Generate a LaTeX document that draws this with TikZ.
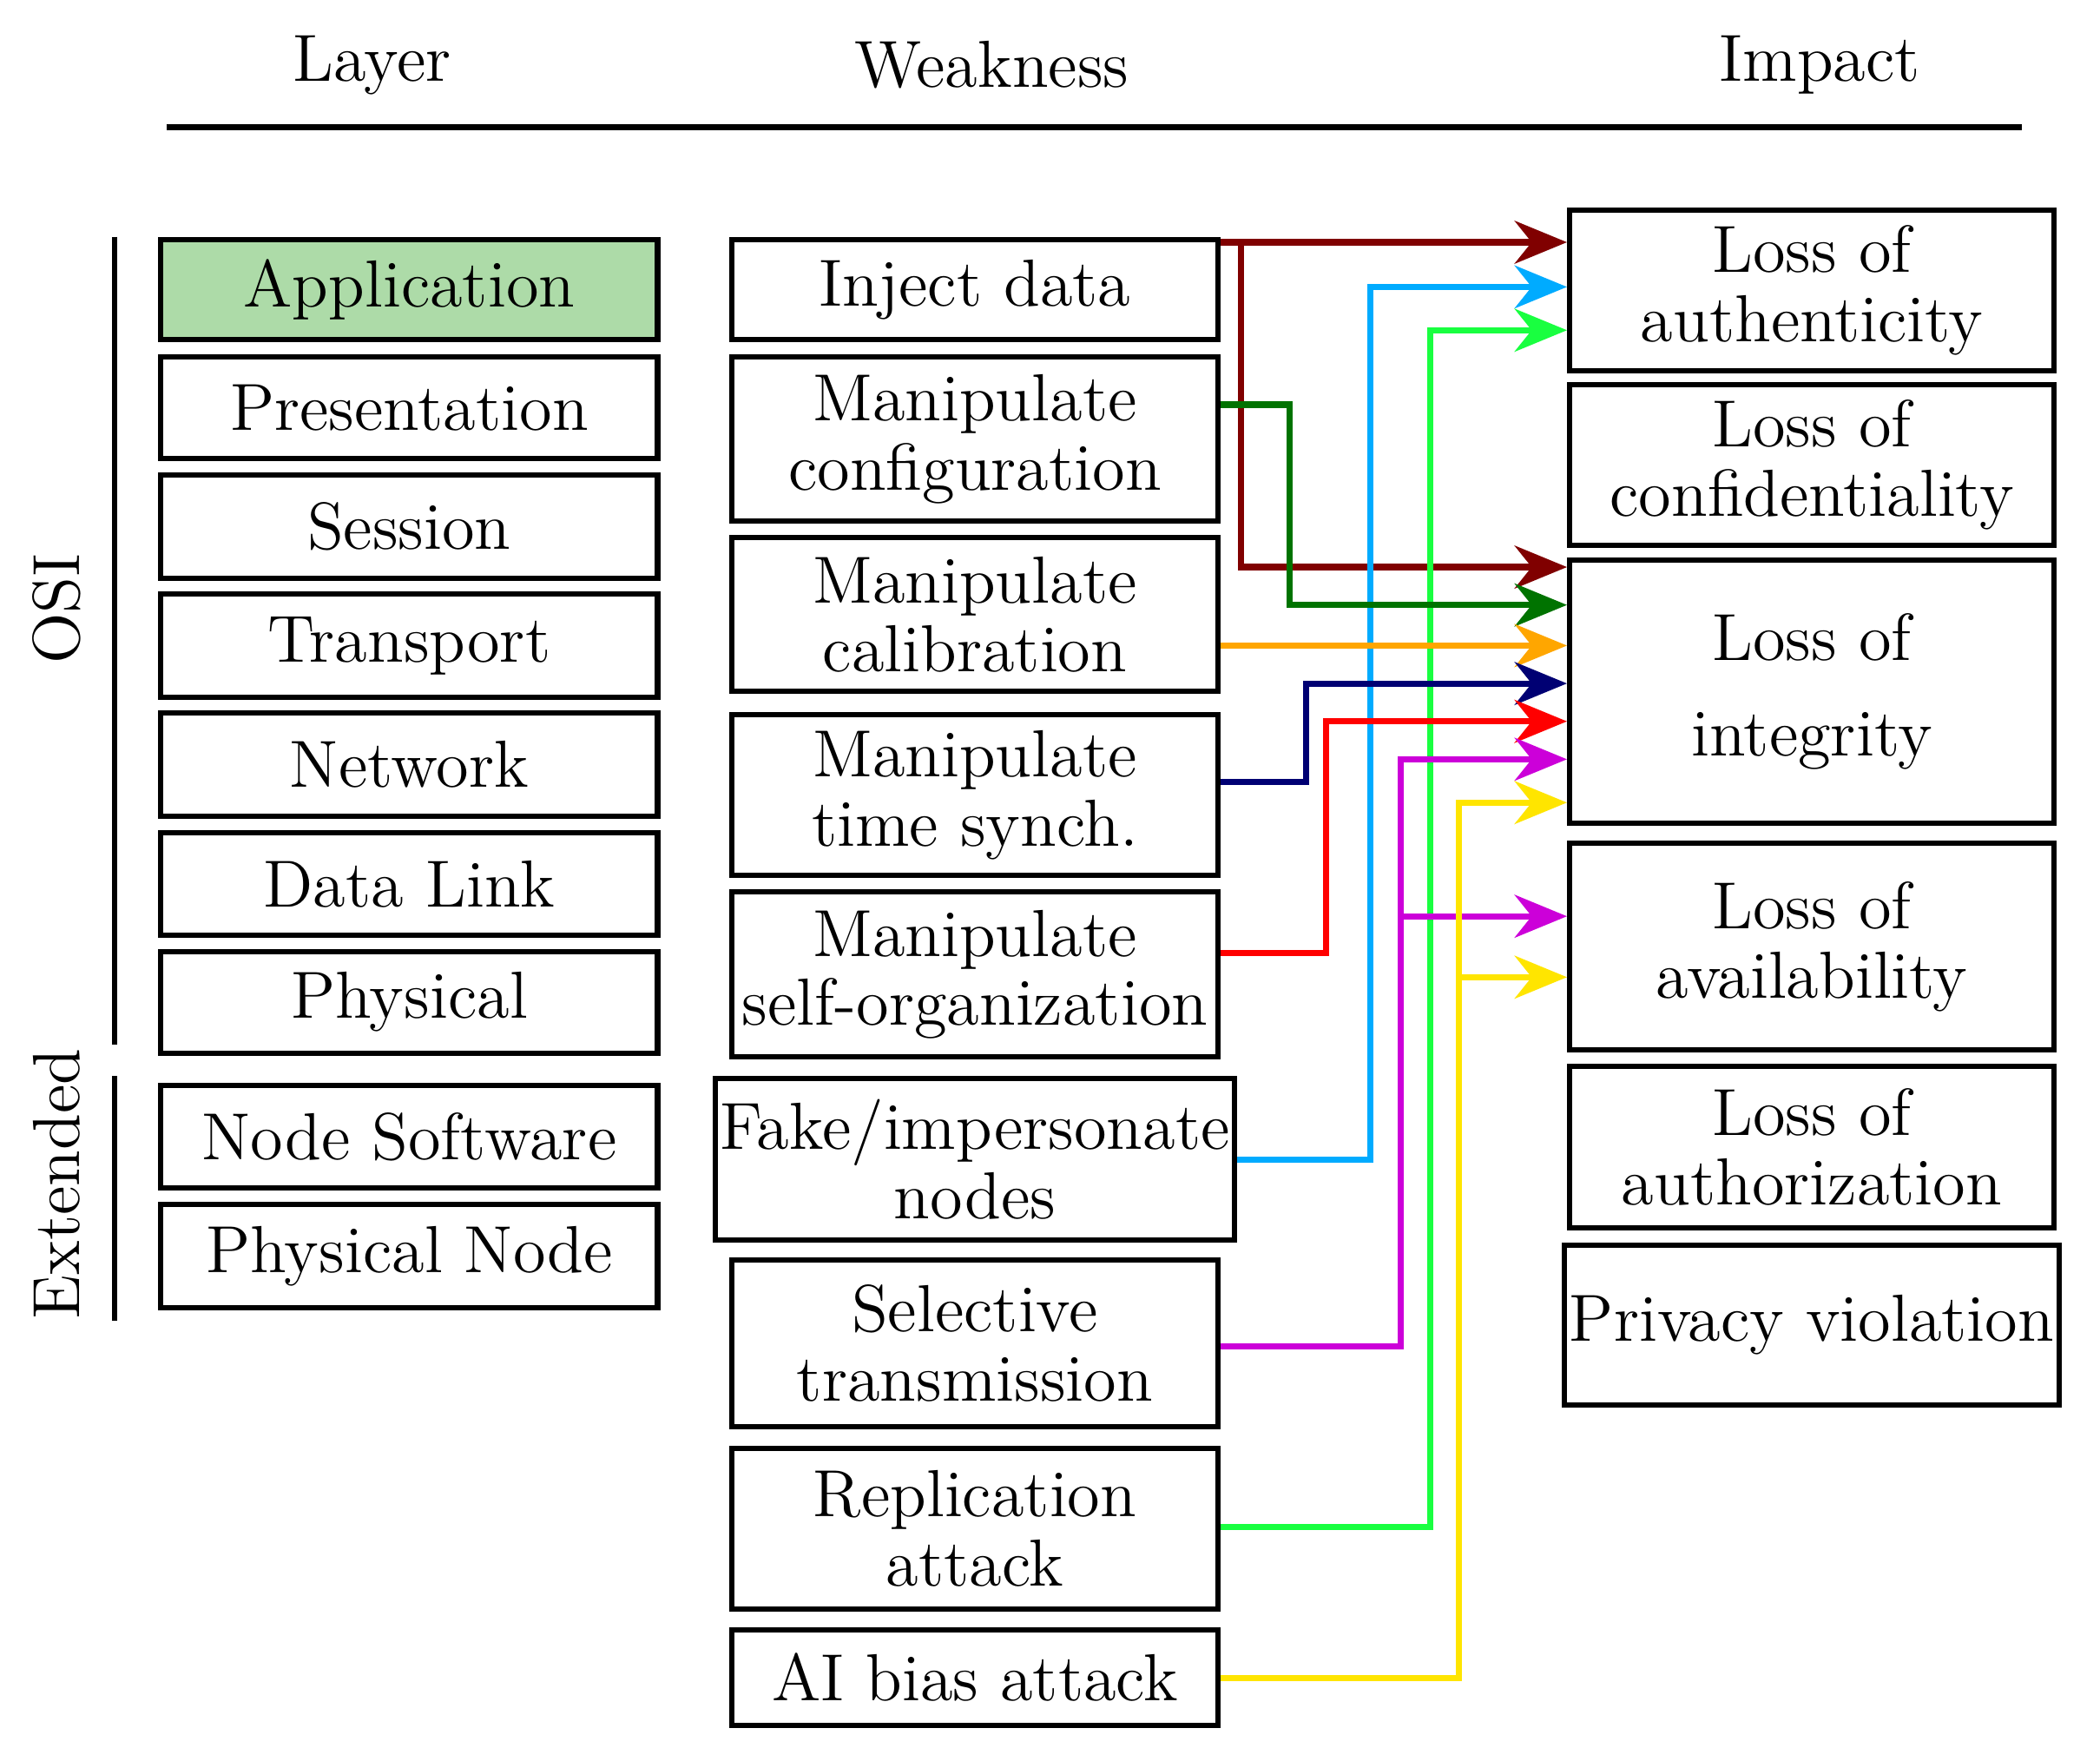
\documentclass[tikz,border=0pt]{standalone}
\usepackage{mathpazo}
\usetikzlibrary{arrows.meta}
\definecolor{appgreen}{rgb}{0.68,0.86,0.66}
\definecolor{cdred}{rgb}{0.5,0,0}
\definecolor{cblue}{rgb}{0,0.67,1}
\definecolor{cgreen}{rgb}{0.1,1,0.25}
\definecolor{cdgreen}{rgb}{0,0.45,0}
\definecolor{corange}{rgb}{1,0.65,0}
\definecolor{cnavy}{rgb}{0,0,0.45}
\definecolor{cred}{rgb}{1,0,0}
\definecolor{cmag}{rgb}{0.8,0,0.85}
\definecolor{cyel}{rgb}{1,0.9,0}
\begin{document}
\begin{tikzpicture}[x=1cm, y=1cm, font=\fontsize{14}{14.5}\selectfont, thin]
  \tikzset{layer/.style={draw, line width=1.1pt, minimum width=3.67cm, inner sep=1pt, align=center},
    weak/.style={draw, line width=1.1pt, minimum width=3.59cm, inner sep=1pt, align=center},
    imp/.style={draw, line width=1.1pt, minimum width=3.58cm, inner sep=1pt, align=center},
    arr/.style={line width=1.3pt, -{Stealth[length=11pt, width=9pt]}},
    lnk/.style={line width=1.3pt}}
  \useasboundingbox (0,0) rectangle (15.52,-12.915);

	% headings
	\node (hLayer) at (2.75,-0.48) {Layer};
	\node (hWeak) at (7.33,-0.48) {Weakness};
	\node (hImp) at (13.45,-0.48) {Impact};
	\draw[line width=1.1pt] (1.23,-0.94) -- (14.94,-0.94);

	% layers
	\node[layer, fill=appgreen, minimum height=0.74cm] (app) at (3.025,-2.14) {Application};
	\node[layer, minimum height=0.75cm] (pres) at (3.025,-3.015) {Presentation};
	\node[layer, minimum height=0.76cm] (sess) at (3.025,-3.89) {Session};
	\node[layer, minimum height=0.76cm] (trans) at (3.025,-4.77) {Transport};
	\node[layer, minimum height=0.76cm] (net) at (3.025,-5.65) {Network};
	\node[layer, minimum height=0.76cm] (dl) at (3.025,-6.53) {Data Link};
	\node[layer, minimum height=0.75cm] (phy) at (3.025,-7.405) {Physical};
	\node[layer, minimum height=0.76cm] (nsw) at (3.025,-8.40) {Node Software};
	\node[layer, minimum height=0.76cm] (pnode) at (3.025,-9.28) {Physical Node};

	\draw[line width=1.1pt] (0.85,-1.75) -- (0.85,-7.72);
	\draw[line width=1.1pt] (0.85,-7.95) -- (0.85,-9.76);
	\node[rotate=90] (osi) at (0.42,-4.50) {OSI};
	\node[rotate=90] (ext) at (0.42,-8.75) {Extended};

	% weaknesses
	\node[weak, minimum height=0.74cm] (inj) at (7.205,-2.14) {Inject data};
	\node[weak, minimum height=1.21cm] (conf) at (7.205,-3.245) {Manipulate\\configuration};
	\node[weak, minimum height=1.14cm] (cal) at (7.205,-4.54) {Manipulate\\calibration};
	\node[weak, minimum height=1.19cm] (tsync) at (7.205,-5.875) {Manipulate\\time synch.};
	\node[weak, minimum height=1.22cm] (sorg) at (7.205,-7.20) {Manipulate\\self-organization};
	\node[weak, minimum height=1.19cm] (fake) at (7.205,-8.565) {Fake/impersonate\\nodes};
	\node[weak, minimum height=1.23cm] (sel) at (7.205,-9.925) {Selective\\transmission};
	\node[weak, minimum height=1.19cm] (repl) at (7.205,-11.295) {Replication\\attack};
	\node[weak, minimum height=0.71cm] (aib) at (7.205,-12.395) {AI bias attack};

	% impacts
	\node[imp, minimum height=1.19cm] (auth) at (13.39,-2.145) {Loss of\\authenticity};
	\node[imp, minimum height=1.19cm] (conf2) at (13.39,-3.435) {Loss of\\confidentiality};
	\node[imp, minimum height=1.94cm, font=\fontsize{14}{20}\selectfont] (integ) at (13.39,-5.11) {Loss of\\integrity};
	\node[imp, minimum height=1.53cm] (avail) at (13.39,-6.995) {Loss of\\availability};
	\node[imp, minimum height=1.19cm] (authz) at (13.39,-8.475) {Loss of\\authorization};
	\node[imp, minimum height=1.18cm] (priv) at (13.39,-9.79) {Privacy violation};

	% links
	\draw[arr, cdred] (inj.east |- 0,-1.79) -- (auth.west |- 0,-1.79);
	\draw[arr, cdred] (9.17,-1.79) |- (integ.west |- 0,-4.19);
	\draw[arr, cblue] (fake.east |- 0,-8.57) -| (10.13,-2.12) -- (auth.west |- 0,-2.12);
	\draw[arr, cgreen] (repl.east |- 0,-11.28) -| (10.57,-2.44) -- (auth.west |- 0,-2.44);
	\draw[arr, cdgreen] (conf.east |- 0,-2.99) -| (9.53,-4.47) -- (integ.west |- 0,-4.47);
	\draw[arr, corange] (cal.east |- 0,-4.77) -- (integ.west |- 0,-4.77);
	\draw[arr, cnavy] (tsync.east |- 0,-5.78) -| (9.65,-5.05) -- (integ.west |- 0,-5.05);
	\draw[arr, cred] (sorg.east |- 0,-7.04) -| (9.80,-5.33) -- (integ.west |- 0,-5.33);
	\draw[arr, cmag] (sel.east |- 0,-9.95) -| (10.35,-5.61) -- (integ.west |- 0,-5.61);
	\draw[arr, cmag] (10.35,-6.77) -- (avail.west |- 0,-6.77);
	\draw[arr, cyel] (aib.east |- 0,-12.40) -| (10.78,-5.93) -- (integ.west |- 0,-5.93);
	\draw[arr, cyel] (10.78,-7.22) -- (avail.west |- 0,-7.22);

\end{tikzpicture}
\end{document}
